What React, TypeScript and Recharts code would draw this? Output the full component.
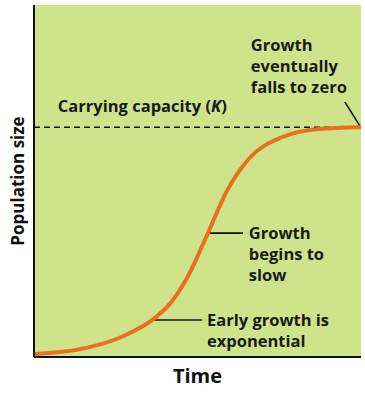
import React from "react";
import {
  ComposedChart,
  Line,
  XAxis,
  YAxis,
  ReferenceLine,
  ReferenceDot,
  CartesianGrid,
} from "recharts";

const timeValues = [0, 8, 16, 26, 31, 36, 42, 47, 53, 59, 66, 76, 87, 100];
const populationValues = [0.8, 1.4, 2.6, 5.4, 7.6, 10.4, 15.6, 22.8, 34.8, 47.2, 56.6, 62.5, 64.8, 65.3];
const carryingCapacity = 65.3;

const annotationTexts = [
  { x: 66.3, y: 86.9, lines: ["Growth", "eventually", "falls to zero"] },
  { x: 7.3, y: 69.6, lines: ["Carrying capacity (K)"] },
  { x: 65.7, y: 33.5, lines: ["Growth", "begins to", "slow"] },
  { x: 52.9, y: 8.8, lines: ["Early growth is", "exponential"] },
];

const pointerSegments = [
  [{ x: 95.1, y: 72.4 }, { x: 99.7, y: 65.6 }],
  [{ x: 52.9, y: 35.2 }, { x: 63.9, y: 35.2 }],
  [{ x: 36.4, y: 10.5 }, { x: 51.4, y: 10.5 }],
];

const data = timeValues.map((t, i) => ({ t, p: populationValues[i] }));

const FONT = "'Open Sans', sans-serif";

const makeLabel = (lines: string[]) => (props: any) => {
  const vb = props.viewBox || {};
  const x = vb.x ?? 0;
  const y = vb.y ?? 0;
  return (
    <text
      x={x}
      y={y}
      fontFamily={FONT}
      fontWeight={700}
      fontSize={16.5}
      fill="#1a1a1a"
    >
      {lines.map((ln, i) => {
        if (ln.includes("(K)")) {
          return (
            <tspan key={i} x={x} dy={i === 0 ? 0 : 21}>
              Carrying capacity (<tspan fontStyle="italic">K</tspan>)
            </tspan>
          );
        }
        return (
          <tspan key={i} x={x} dy={i === 0 ? 0 : 21}>
            {ln}
          </tspan>
        );
      })}
    </text>
  );
};

export default function App() {
  return (
    <div style={{ position: "absolute", left: 0, top: 0, width: 365, height: 393, background: "#fff" }}>
      <ComposedChart
        width={365}
        height={393}
        data={data}
        margin={{ top: 5, right: 4, bottom: 36, left: 34 }}
      >
        <CartesianGrid fill="#cfe38b" stroke="#d8d8d8" horizontal={false} vertical={false} />
        <XAxis dataKey="t" type="number" domain={[0, 100]} hide />
        <YAxis type="number" domain={[0, 100]} hide />
        <ReferenceLine
          y={carryingCapacity}
          stroke="#111"
          strokeWidth={1.5}
          strokeDasharray="6 4"
        />
        {pointerSegments.map((seg, i) => (
          <ReferenceLine key={"s" + i} segment={seg} stroke="#111" strokeWidth={1.6} />
        ))}
        <Line
          type="monotone"
          dataKey="p"
          stroke="#e8701e"
          strokeWidth={4}
          dot={false}
          isAnimationActive={false}
        />
        <ReferenceLine x={0} stroke="#111" strokeWidth={2} />
        <ReferenceLine y={0} stroke="#111" strokeWidth={2} />
        {annotationTexts.map((a, i) => (
          <ReferenceDot
            key={"a" + i}
            x={a.x}
            y={a.y}
            r={0}
            fill="none"
            stroke="none"
            label={{ content: makeLabel(a.lines) }}
          />
        ))}
      </ComposedChart>
      <div
        style={{
          position: "absolute",
          left: 34,
          width: 327,
          top: 362,
          textAlign: "center",
          fontFamily: FONT,
          fontWeight: 700,
          fontSize: 20,
          color: "#111",
        }}
      >
        Time
      </div>
      <div
        style={{
          position: "absolute",
          left: 17,
          top: 181,
          transform: "translate(-50%, -50%) rotate(-90deg)",
          whiteSpace: "nowrap",
          fontFamily: FONT,
          fontWeight: 700,
          fontSize: 17,
          color: "#111",
        }}
      >
        Population size
      </div>
    </div>
  );
}
